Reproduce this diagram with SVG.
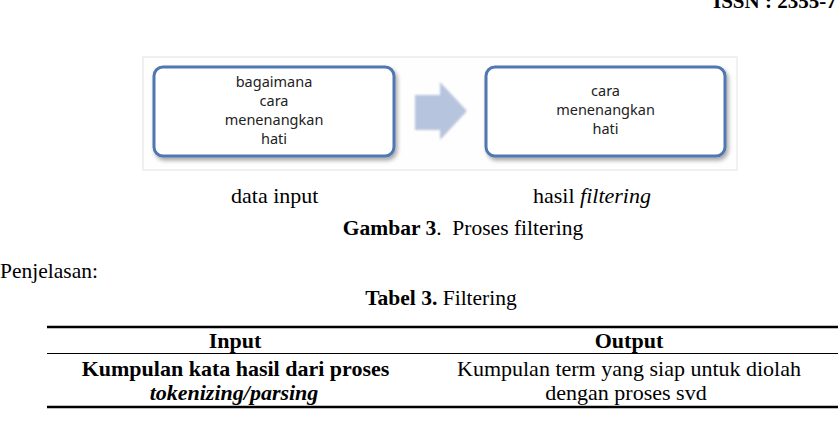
<svg xmlns="http://www.w3.org/2000/svg" width="838" height="424" viewBox="0 0 838 424">
<defs>
<style>
.serif{font-family:"Liberation Serif","Times New Roman",serif;fill:#000}
.b{font-weight:bold}
.i{font-style:italic}
.box{fill:#fff;stroke:#4f77b1;stroke-width:3}
.bt{font-family:"Noto Sans","Open Sans",sans-serif;font-size:14.5px;fill:#222;text-anchor:middle}
.tc{text-anchor:middle}
.rule{stroke:#000}
</style>
<filter id="sh" x="-10%" y="-10%" width="130%" height="130%">
<feGaussianBlur in="SourceAlpha" stdDeviation="2"/>
<feOffset dx="1.5" dy="2.5" result="b"/>
<feComponentTransfer><feFuncA type="linear" slope="0.35"/></feComponentTransfer>
<feMerge><feMergeNode/><feMergeNode in="SourceGraphic"/></feMerge>
</filter>
<filter id="soft"><feGaussianBlur stdDeviation="0.8"/></filter>
</defs>
<rect width="838" height="424" fill="#fff"/>
<text class="serif b" x="713" y="8" font-size="21">ISSN : 2355-7</text>

<rect x="143" y="57" width="594" height="113" fill="#fefefe" stroke="#ececec" stroke-width="1.5"/>

<g id="node-input">
<rect class="box" x="154" y="67" width="240" height="89" rx="9" filter="url(#sh)"/>
<text class="bt" x="274" y="87">bagaimana</text>
<text class="bt" x="274" y="106">cara</text>
<text class="bt" x="274" y="125">menenangkan</text>
<text class="bt" x="274" y="144">hati</text>
</g>

<g id="connectors">
<polygon points="415,95 440,95 440,82 467,111 440,140 440,130 415,130" fill="#b7c4dd" filter="url(#soft)"/>
</g>

<g id="node-output">
<rect class="box" x="486" y="67" width="239" height="89" rx="9" filter="url(#sh)"/>
<text class="bt" x="605.5" y="96">cara</text>
<text class="bt" x="605.5" y="115">menenangkan</text>
<text class="bt" x="605.5" y="134">hati</text>
</g>

<text class="serif" x="231" y="203" font-size="22">data input</text>
<text class="serif" x="533" y="203" font-size="22">hasil <tspan class="i">filtering</tspan></text>
<text class="serif tc" x="463" y="235" font-size="21.5" xml:space="preserve"><tspan class="b">Gambar 3</tspan>.  Proses filtering</text>

<text class="serif" x="0" y="278" font-size="21.5">Penjelasan:</text>
<text class="serif tc" x="441" y="305" font-size="21.5"><tspan class="b">Tabel 3.</tspan> Filtering</text>

<g id="table">
<line class="rule" x1="47" y1="327" x2="838" y2="327" stroke-width="2.5"/>
<line class="rule" x1="47" y1="353.5" x2="838" y2="353.5" stroke-width="1.2"/>
<line class="rule" x1="47" y1="407" x2="838" y2="407" stroke-width="2.5"/>
<text class="serif b tc" x="235" y="348" font-size="22">Input</text>
<text class="serif b tc" x="629" y="348" font-size="22">Output</text>
<text class="serif b tc" x="235.5" y="376" font-size="22">Kumpulan kata hasil dari proses</text>
<text class="serif b i tc" x="234" y="400" font-size="22">tokenizing/parsing</text>
<text class="serif tc" x="629" y="376" font-size="22">Kumpulan term yang siap untuk diolah</text>
<text class="serif tc" x="626" y="400" font-size="22">dengan proses svd</text>
</g>
</svg>
